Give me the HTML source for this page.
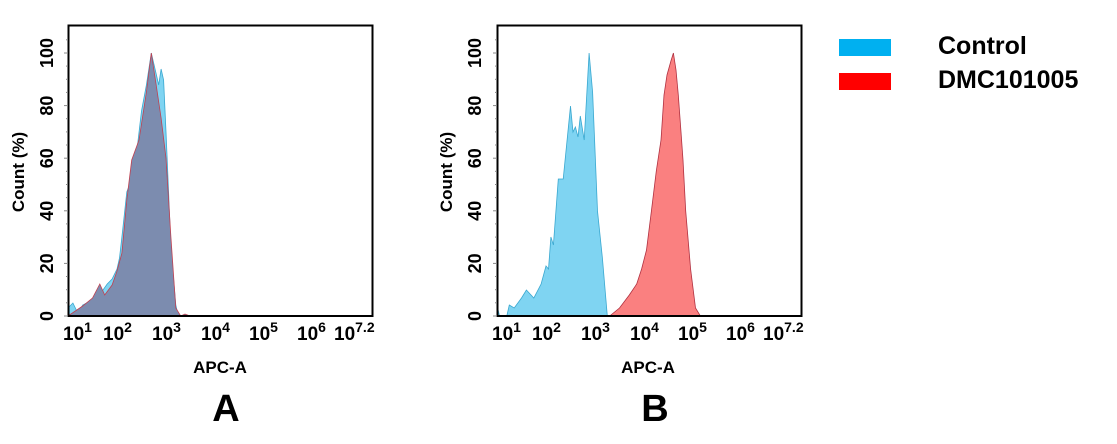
<!DOCTYPE html>
<html><head><meta charset="utf-8"><style>
html,body{margin:0;padding:0;background:#fff;}
svg text{font-family:"Liberation Sans",Arial,sans-serif;font-weight:bold;fill:#000;}
</style></head><body>
<svg width="1117" height="439" viewBox="0 0 1117 439" xmlns="http://www.w3.org/2000/svg">
<defs>
<g id="yt">
<g stroke="#888" stroke-width="1">
<line x1="-4" y1="316" x2="0" y2="316"/><line x1="-4" y1="263.4" x2="0" y2="263.4"/><line x1="-4" y1="210.8" x2="0" y2="210.8"/><line x1="-4" y1="158.2" x2="0" y2="158.2"/><line x1="-4" y1="105.6" x2="0" y2="105.6"/><line x1="-4" y1="53" x2="0" y2="53"/>
<line x1="-2" y1="302.8" x2="0" y2="302.8"/><line x1="-2" y1="289.7" x2="0" y2="289.7"/><line x1="-2" y1="276.5" x2="0" y2="276.5"/><line x1="-2" y1="250.2" x2="0" y2="250.2"/><line x1="-2" y1="237.1" x2="0" y2="237.1"/><line x1="-2" y1="223.9" x2="0" y2="223.9"/><line x1="-2" y1="197.6" x2="0" y2="197.6"/><line x1="-2" y1="184.5" x2="0" y2="184.5"/><line x1="-2" y1="171.3" x2="0" y2="171.3"/><line x1="-2" y1="145" x2="0" y2="145"/><line x1="-2" y1="131.9" x2="0" y2="131.9"/><line x1="-2" y1="118.7" x2="0" y2="118.7"/><line x1="-2" y1="92.4" x2="0" y2="92.4"/><line x1="-2" y1="79.3" x2="0" y2="79.3"/><line x1="-2" y1="66.1" x2="0" y2="66.1"/><line x1="-2" y1="39.8" x2="0" y2="39.8"/>
</g>
</g>
</defs>

<!-- Panel A -->
<g>
<polygon fill="#7fd4f2" stroke="#3aa8d0" stroke-width="0.8" points="68,316 68,308 72.9,303 77.8,313 82.7,305 92.5,300 97.4,298 107.2,284 112.1,279 117,269 119.5,258 121.9,237 126.8,192 131.7,179 136.6,153 141.5,111 146.4,85 151.3,53 156.2,74 158.7,85 161.1,69 163.6,80 166,132 168.5,190 170.9,248 175.8,305 178.3,316"/>
<polygon fill="#7c8caf" stroke="#c04050" stroke-width="0.8" points="68,316 82.7,306 92.5,298 99.8,284 104.7,295 112.1,285 117,271 121.9,253 126.8,200 131.7,160 139,140 146.4,92 151.3,53 156.2,85 161.1,118 166,158 170.9,237 175.8,308 180.7,316 185,314 190,316"/>
<rect x="68.5" y="25.5" width="304" height="290.5" fill="none" stroke="#000" stroke-width="2"/>
<g transform="translate(68,0)"><use href="#yt"/></g>
<g font-size="18" text-anchor="middle">
<text transform="translate(53,316) rotate(-90)">0</text>
<text transform="translate(53,263.4) rotate(-90)">20</text>
<text transform="translate(53,210.8) rotate(-90)">40</text>
<text transform="translate(53,158.2) rotate(-90)">60</text>
<text transform="translate(53,105.6) rotate(-90)">80</text>
<text transform="translate(53,53) rotate(-90)">100</text>
<text transform="translate(24,172) rotate(-90)" font-size="17">Count  (%)</text>
</g>
<g font-size="19">
<text x="63" y="340">10<tspan font-size="14" dy="-8">1</tspan></text>
<text x="103" y="340">10<tspan font-size="14" dy="-8">2</tspan></text>
<text x="152" y="340">10<tspan font-size="14" dy="-8">3</tspan></text>
<text x="201" y="340">10<tspan font-size="14" dy="-8">4</tspan></text>
<text x="249" y="340">10<tspan font-size="14" dy="-8">5</tspan></text>
<text x="297" y="340">10<tspan font-size="14" dy="-8">6</tspan></text>
<text x="334" y="340">10<tspan font-size="14" dy="-8">7.2</tspan></text>
</g>
<text x="220" y="373" font-size="17" text-anchor="middle">APC-A</text>
<text x="226" y="421" font-size="38" text-anchor="middle">A</text>
</g>

<!-- Panel B -->
<g>
<polygon fill="#7fd4f2" stroke="#3aa8d0" stroke-width="0.8" points="497,316 497,305 499.5,316 506.8,316 509.3,305 514.2,308 521.5,298 526.4,290 533.8,298 541.1,284 546,266 548.5,269 550.9,237 553.4,245 558.3,179 563.2,179 570.5,106 573,132 575.4,127 578,137 580.3,116 584.2,140 589.1,53 592.6,92 597.5,211 602.4,258 607.3,316"/>
<polygon fill="#fa8080" stroke="#b03040" stroke-width="0.8" points="609.7,316 619.5,308 629.3,295 636.7,284 641.6,269 646.5,250 651.4,211 656.3,171 661,140 664,95 667,75 670.9,61 673.4,53 676,70 678.3,95 681,132 683,160 685.7,211 690.6,269 695.5,308 700.4,316"/>
<rect x="497.5" y="25.5" width="304" height="290.5" fill="none" stroke="#000" stroke-width="2"/>
<g transform="translate(497,0)"><use href="#yt"/></g>
<g font-size="18" text-anchor="middle">
<text transform="translate(481,316) rotate(-90)">0</text>
<text transform="translate(481,263.4) rotate(-90)">20</text>
<text transform="translate(481,210.8) rotate(-90)">40</text>
<text transform="translate(481,158.2) rotate(-90)">60</text>
<text transform="translate(481,105.6) rotate(-90)">80</text>
<text transform="translate(481,53) rotate(-90)">100</text>
<text transform="translate(452,172) rotate(-90)" font-size="17">Count  (%)</text>
</g>
<g font-size="19">
<text x="492" y="340">10<tspan font-size="14" dy="-8">1</tspan></text>
<text x="532" y="340">10<tspan font-size="14" dy="-8">2</tspan></text>
<text x="581" y="340">10<tspan font-size="14" dy="-8">3</tspan></text>
<text x="630" y="340">10<tspan font-size="14" dy="-8">4</tspan></text>
<text x="678" y="340">10<tspan font-size="14" dy="-8">5</tspan></text>
<text x="726" y="340">10<tspan font-size="14" dy="-8">6</tspan></text>
<text x="763" y="340">10<tspan font-size="14" dy="-8">7.2</tspan></text>
</g>
<text x="648" y="373" font-size="17" text-anchor="middle">APC-A</text>
<text x="655" y="421" font-size="38" text-anchor="middle">B</text>
</g>

<!-- Legend -->
<rect x="839" y="39" width="52" height="17" fill="#00b0f0"/>
<rect x="839" y="73" width="52" height="17" fill="#ff0000"/>
<text x="938" y="54" font-size="25">Control</text>
<text x="938" y="88" font-size="25">DMC101005</text>
</svg>
</body></html>
